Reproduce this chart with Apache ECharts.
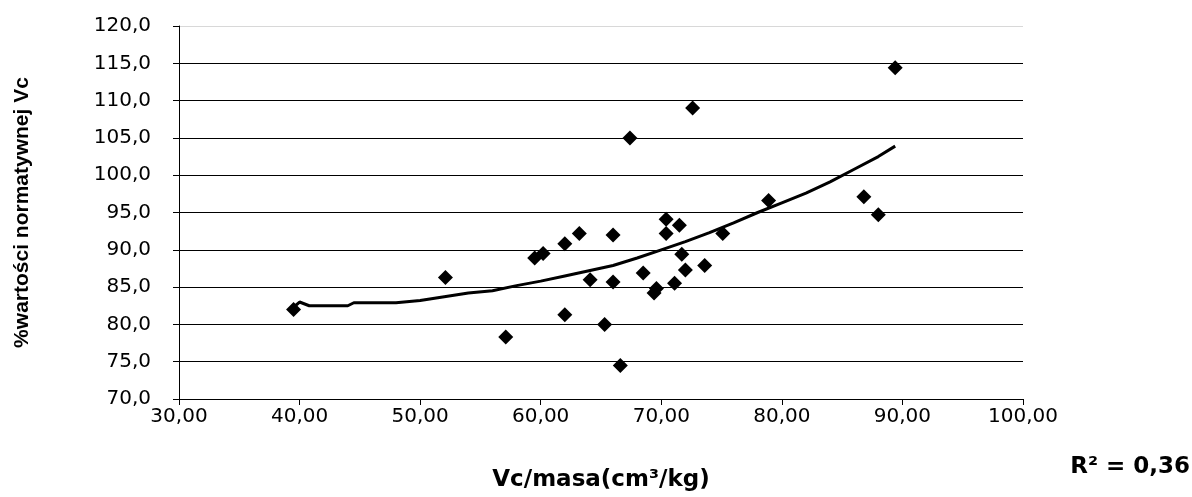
<!DOCTYPE html>
<html>
<head>
<meta charset="utf-8">
<script src="https://cdn.jsdelivr.net/npm/echarts@6/dist/echarts.min.js"></script>
<style>
  html, body { margin: 0; padding: 0; background: #fff; }
  #chart { width: 1192px; height: 497px; }
</style>
</head>
<body>
<div id="chart"></div>
<script>
  // punkty pomiarowe: Vc/masa (x) i % wartości normatywnej Vc (y)
  var vcMasa = [39.5, 52.1, 57.1, 59.5, 60.2, 62.0, 63.2, 62.0, 64.1, 66.0,
                66.0, 65.3, 66.6, 67.4, 68.5, 69.4, 69.6, 70.4, 71.5, 70.4,
                71.7, 72.0, 71.1, 73.6, 72.6, 75.1, 78.9, 86.8, 88.0, 89.4];
  var procentVc = [82.0, 86.3, 78.3, 88.9, 89.5, 90.8, 92.2, 81.3, 86.0, 92.0,
                   85.7, 80.0, 74.5, 105.0, 86.9, 84.2, 84.8, 94.1, 93.3, 92.2,
                   89.4, 87.3, 85.5, 87.9, 109.0, 92.2, 96.6, 97.1, 94.7, 114.4];

  // linia trendu
  var trendX = [39.5, 40.0, 40.8, 44.0, 44.5, 48.0, 50.0, 52.0, 54.0, 56.0, 58.0,
                60.0, 62.0, 64.0, 66.0, 68.0, 70.0, 72.0, 74.0, 76.0, 78.0, 80.0,
                82.0, 84.0, 86.0, 88.0, 89.4];
  var trendY = [82.3, 83.0, 82.5, 82.5, 82.9, 82.9, 83.2, 83.7, 84.2, 84.5, 85.2,
                85.8, 86.5, 87.2, 87.9, 88.9, 90.0, 91.1, 92.3, 93.6, 95.0, 96.3,
                97.6, 99.1, 100.8, 102.5, 103.9];

  var xTicks = { min: 30, max: 100, step: 10 };
  var yTicks = { min: 70, max: 120, step: 5 };
  var r2Text = 'R² = 0,36';

  var points = vcMasa.map(function (x, i) { return [x, procentVc[i]] });
  var trend = trendX.map(function (x, i) { return [x, trendY[i]] });

  var font = '"DejaVu Sans", Arial, sans-serif';
  var fontTitle = 'Arial, "Liberation Sans", sans-serif';
  var chart = echarts.init(document.getElementById('chart'));

  var gridColors = [];
  for (var v = yTicks.min; v <= yTicks.max; v += yTicks.step) {
    gridColors.push(v === yTicks.max ? '#d8d8d8' : '#000');
  }

  chart.setOption({
    animation: false,
    backgroundColor: '#fff',
    grid: { left: 179, right: 169, top: 26, bottom: 98 },
    xAxis: {
      type: 'value',
      min: xTicks.min,
      max: xTicks.max,
      interval: xTicks.step,
      name: 'Vc/masa(cm³/kg)',
      nameLocation: 'middle',
      nameGap: 70,
      nameTextStyle: { fontFamily: font, fontWeight: 'bold', fontSize: 23, color: '#000' },
      axisLine: { lineStyle: { color: '#000', width: 1 } },
      axisTick: { show: true, inside: false, length: 6, lineStyle: { color: '#000' } },
      axisLabel: {
        margin: 8,
        fontFamily: font, fontSize: 20, color: '#000',
        formatter: function (v) { return v.toFixed(2).replace('.', ',') }
      },
      splitLine: { show: false }
    },
    yAxis: {
      type: 'value',
      min: yTicks.min,
      max: yTicks.max,
      interval: yTicks.step,
      name: '%wartości normatywnej Vc',
      nameLocation: 'middle',
      nameGap: 146,
      nameRotate: 90,
      nameTextStyle: { fontFamily: fontTitle, fontWeight: 'bold', fontSize: 21, color: '#000' },
      axisLine: { show: true, lineStyle: { color: '#000', width: 1 } },
      axisTick: { show: true, inside: false, length: 6, lineStyle: { color: '#000' } },
      axisLabel: {
        margin: 28,
        fontFamily: font, fontSize: 20, color: '#000',
        formatter: function (v) { return v.toFixed(1).replace('.', ',') }
      },
      splitLine: { show: true, lineStyle: { color: gridColors, width: 1 } }
    },
    graphic: [{
      type: 'text',
      right: 2,
      top: 456,
      style: { text: r2Text, fontFamily: font, fontWeight: 'bold', fontSize: 23, fill: '#000' }
    }],
    series: [
      {
        type: 'scatter',
        symbol: 'diamond',
        symbolSize: 15,
        itemStyle: { color: '#000', opacity: 1 },
        data: points,
        z: 3
      },
      {
        type: 'line',
        data: trend,
        showSymbol: false,
        smooth: false,
        lineStyle: { color: '#000', width: 3 },
        z: 2
      }
    ]
  });
</script>
</body>
</html>
